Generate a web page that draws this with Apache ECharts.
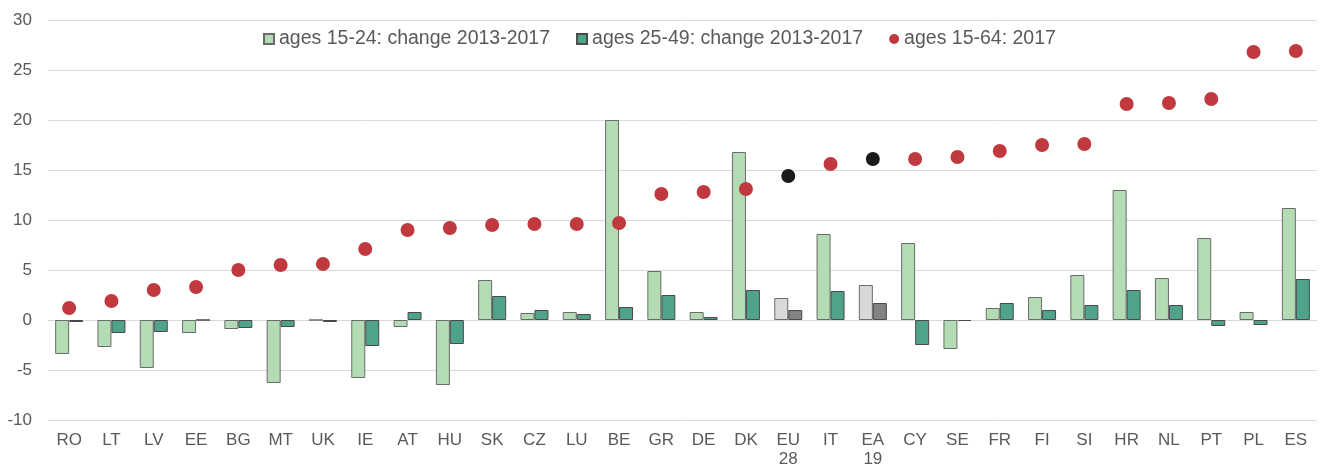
<!DOCTYPE html>
<html>
<head>
<meta charset="utf-8">
<script src="https://cdn.jsdelivr.net/npm/echarts@6/dist/echarts.min.js"></script>
<style>
  html, body { margin: 0; padding: 0; background: #fff; }
  #chart { width: 1325px; height: 468px; }
</style>
</head>
<body>
<div id="chart"></div>
<script>
// countries, sorted by 2017 value
var categories = ["RO", "LT", "LV", "EE", "BG", "MT", "UK", "IE", "AT", "HU", "SK", "CZ", "LU", "BE", "GR", "DE", "DK", "EU\n28", "IT", "EA\n19", "CY", "SE", "FR", "FI", "SI", "HR", "NL", "PT", "PL", "ES"];
var young = [-3.4, -2.7, -4.8, -1.3, -0.9, -6.3, 0, -5.8, -0.7, -6.5, 4.0, 0.7, 0.8, 20.0, 4.9, 0.8, 16.8, 2.2, 8.6, 3.5, 7.7, -2.9, 1.2, 2.3, 4.5, 13.0, 4.2, 8.2, 0.8, 11.2];
var prime = [-0.2, -1.3, -1.2, 0, -0.8, -0.7, -0.2, -2.6, 0.8, -2.4, 2.4, 1.0, 0.6, 1.3, 2.5, 0.3, 3.0, 1.0, 2.9, 1.7, -2.5, -0.1, 1.7, 1.0, 1.5, 3.0, 1.5, -0.6, -0.5, 4.1];
var total = [1.2, 1.9, 3.0, 3.3, 5.0, 5.5, 5.6, 7.1, 9.0, 9.2, 9.5, 9.6, 9.6, 9.7, 12.6, 12.8, 13.1, 14.4, 15.6, 16.1, 16.1, 16.3, 16.9, 17.5, 17.6, 21.6, 21.7, 22.1, 26.8, 26.9];
var aggregates = ["EU\n28", "EA\n19"];

var font = "'Liberation Sans', Arial, sans-serif";

function withAggColor(values, normal, agg) {
  return values.map(function (v, i) {
    var c = aggregates.indexOf(categories[i]) >= 0 ? agg : normal;
    return { value: v, itemStyle: { color: c } };
  });
}

var chart = echarts.init(document.getElementById("chart"));
var option = {
  animation: false,
  textStyle: { fontFamily: font },
  grid: { left: 48, right: 8, top: 20, bottom: 48, outerBoundsMode: "none" },
  legend: {
    left: 263,
    top: 29,
    padding: 0,
    itemWidth: 10,
    itemHeight: 10,
    itemGap: 26,
    textStyle: { color: "#595959", fontSize: 19.5, fontFamily: font },
    data: [
      { name: "ages 15-24: change 2013-2017", icon: "rect" },
      { name: "ages 25-49: change 2013-2017", icon: "rect" },
      { name: "ages 15-64: 2017", icon: "circle" }
    ]
  },
  xAxis: {
    type: "category",
    data: categories,
    axisLine: { show: false, onZero: false },
    axisTick: { show: false },
    axisLabel: { color: "#595959", fontSize: 17, margin: 11, lineHeight: 19, interval: 0 }
  },
  yAxis: {
    type: "value",
    min: -10,
    max: 30,
    interval: 5,
    axisLine: { show: false },
    axisTick: { show: false },
    axisLabel: { color: "#595959", fontSize: 17, margin: 16 },
    splitLine: { lineStyle: { color: "#d9d9d9", width: 1 } }
  },
  series: [
    {
      name: "ages 15-24: change 2013-2017",
      type: "bar",
      barWidth: 14,
      barGap: 0,
      itemStyle: { color: "#b3dcb5", borderColor: "#6b6b6b", borderWidth: 1 },
      data: withAggColor(young, "#b3dcb5", "#d9d9d9")
    },
    {
      name: "ages 25-49: change 2013-2017",
      type: "bar",
      barWidth: 14,
      barGap: 0,
      itemStyle: { color: "#4fa38a", borderColor: "#4a4a4a", borderWidth: 1 },
      data: withAggColor(prime, "#4fa38a", "#818385")
    },
    {
      name: "ages 15-64: 2017",
      type: "scatter",
      symbolSize: 14,
      z: 5,
      itemStyle: { color: "#c0393f", opacity: 1 },
      data: withAggColor(total, "#c0393f", "#1a1a1a")
    }
  ]
};
chart.setOption(option);
</script>
</body>
</html>
